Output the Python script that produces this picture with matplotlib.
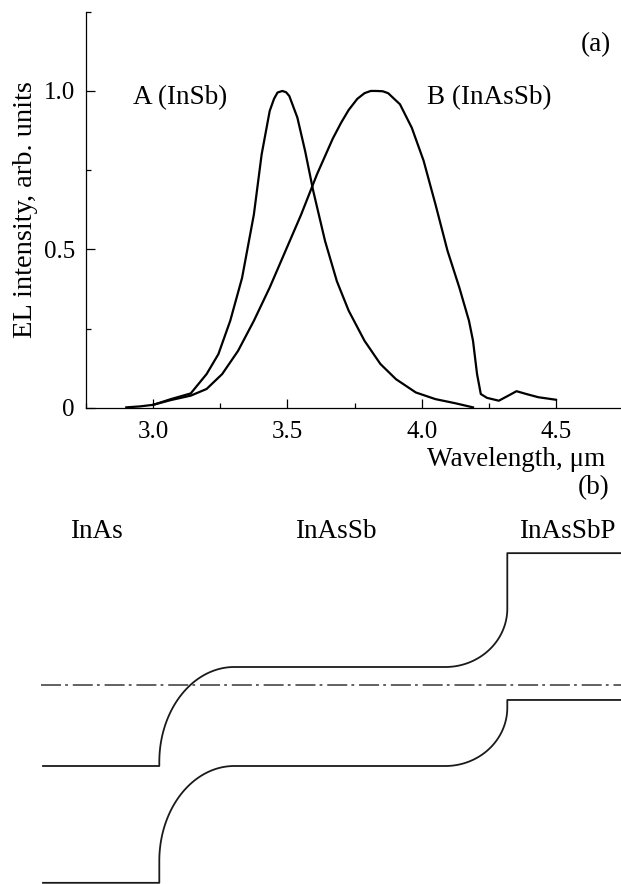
import matplotlib
matplotlib.use("Agg")
import matplotlib.pyplot as plt
from matplotlib.ticker import MultipleLocator, FuncFormatter
import numpy as np

plt.rcParams['font.family'] = ['Liberation Serif', 'DejaVu Serif']
plt.rcParams['font.size'] = 19.5
plt.rcParams['lines.scale_dashes'] = False

# ---- (a) EL spectra ----
wl_a = [2.90, 2.95, 3.00, 3.066, 3.14, 3.199, 3.243, 3.287, 3.331, 3.375, 3.404,
        3.434, 3.45, 3.463, 3.481, 3.495, 3.507, 3.537, 3.566, 3.596, 3.64, 3.684,
        3.728, 3.787, 3.846, 3.904, 3.978, 4.051, 4.125, 4.191]
int_a = [0.002, 0.005, 0.01, 0.028, 0.046, 0.107, 0.17, 0.275, 0.41, 0.61, 0.80,
         0.937, 0.975, 0.995, 1.0, 0.996, 0.984, 0.916, 0.81, 0.685, 0.527, 0.40,
         0.307, 0.212, 0.139, 0.091, 0.049, 0.028, 0.015, 0.002]

wl_b = [3.00, 3.066, 3.14, 3.199, 3.257, 3.316, 3.375, 3.434, 3.493, 3.551, 3.61,
        3.669, 3.70, 3.728, 3.76, 3.787, 3.81, 3.831, 3.855, 3.875, 3.919, 3.963,
        4.007, 4.051, 4.096, 4.14, 4.176, 4.191, 4.206, 4.22, 4.243, 4.287, 4.316,
        4.353, 4.39, 4.434, 4.50]
int_b = [0.01, 0.025, 0.039, 0.06, 0.107, 0.18, 0.275, 0.38, 0.496, 0.61, 0.737,
         0.85, 0.9, 0.94, 0.975, 0.993, 1.0, 1.0, 0.999, 0.993, 0.958, 0.884,
         0.78, 0.643, 0.496, 0.38, 0.275, 0.212, 0.107, 0.044, 0.032, 0.023, 0.036,
         0.053, 0.044, 0.034, 0.026]

# ---- (b) band diagram (arbitrary units) ----
layers = ["InAs", "InAsSb", "InAsSbP"]
layer_label_x = [0.967, 3.36, 5.675]
ec_levels = [0.0, 1.0, 2.15]
ev_levels = [-1.18, 0.0, 0.667]
fermi_level = 0.818
interfaces = [1.593, 5.073]
x_start, x_end = 0.43, 6.21


def band(levels):
    # left junction: vertical rise then quarter ellipse onto the plateau
    a1, b1 = 0.75, 0.96
    # right junction: quarter ellipse then vertical rise
    a2, b2 = 0.62, 0.59
    t = np.linspace(0, np.pi / 2, 60)
    xs1, xs2 = interfaces
    x = [x_start, xs1, xs1]
    y = [levels[0], levels[0], levels[1] - b1]
    x += list(xs1 + a1 - a1 * np.cos(t))
    y += list(levels[1] - b1 + b1 * np.sin(t))
    x += list(xs2 - a2 + a2 * np.sin(t))
    y += list(levels[1] + b2 - b2 * np.cos(t))
    x += [xs2, x_end]
    y += [levels[2], levels[2]]
    return x, y


fig = plt.figure(figsize=(6.21, 8.84), dpi=100)

ax = fig.add_axes([86 / 621, 1 - 408 / 884, 1 - 86 / 621, (408 - 11.7) / 884])
ax.plot(wl_a, int_a, color='black', lw=1.6)
ax.plot(wl_b, int_b, color='black', lw=1.6)
ax.set_xlim(2.75, 4.742)
ax.set_ylim(0, 1.25)
for s in ['top', 'right']:
    ax.spines[s].set_visible(False)
for s in ['left', 'bottom']:
    ax.spines[s].set_linewidth(0.9)
ax.xaxis.set_major_locator(MultipleLocator(0.5))
ax.xaxis.set_minor_locator(MultipleLocator(0.25))
ax.yaxis.set_major_locator(MultipleLocator(0.5))
ax.yaxis.set_minor_locator(MultipleLocator(0.25))
ax.set_xticks([3.0, 3.5, 4.0, 4.5])
ax.yaxis.set_major_formatter(FuncFormatter(lambda v, p: "0" if v == 0 else f"{v:.1f}"))
ax.tick_params(which='major', direction='in', length=6.5, width=0.9, labelsize=18)
ax.tick_params(which='minor', direction='in', length=3.8, width=0.9)
ax.tick_params(axis='x', which='major', pad=9)
ax.tick_params(axis='y', which='major', pad=8)
ax.set_ylabel("EL intensity, arb. units", fontsize=20.5)
ax.yaxis.set_label_coords(-0.09, 0.5)
ax.set_xlabel("Wavelength, μm", ha='right', va='center')
ax.xaxis.set_label_coords((605 - 86) / 535, -(459 - 408) / 396.3)
ax.text(3.099, 0.98, "A (InSb)", ha='center', va='center')
ax.text(4.25, 0.98, "B (InAsSb)", ha='center', va='center')
ax.text(4.65, 1.147, "(a)", ha='center', va='center')

# bottom panel
bx = fig.add_axes([0, 0, 1, 0.5])
bx.axis('off')
bx.set_xlim(0, 6.21)
bx.set_ylim((766 - 884) / 99, (766 - 442) / 99)
xc, yc = band(ec_levels)
xv, yv = band(ev_levels)
bx.plot(xc, yc, color='#1a1a1a', lw=1.3, clip_on=False)
bx.plot(xv, yv, color='#1a1a1a', lw=1.3, clip_on=False)
bx.plot([0.41, x_end], [fermi_level, fermi_level], color='#555555', lw=1.3,
        linestyle=(0, (14.4, 3.0, 2.0, 3.5)), clip_on=False)
for name, lx in zip(layers, layer_label_x):
    bx.text(lx, (766 - 531) / 99, name, ha='center', va='center')
bx.text(5.94, (766 - 488) / 99, "(b)", ha='center', va='center')

fig.savefig("out.png", dpi=100)
